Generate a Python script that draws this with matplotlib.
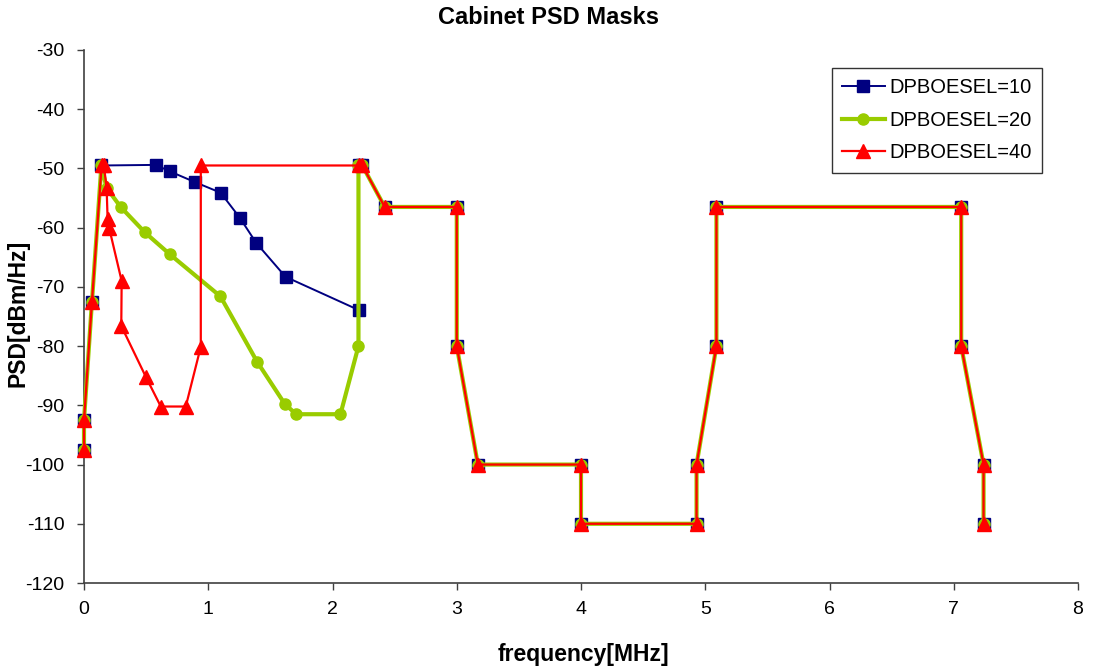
import matplotlib

matplotlib.use("Agg")
import matplotlib.pyplot as plt

plt.rcParams["font.family"] = ["Liberation Sans", "DejaVu Sans"]
plt.rcParams["axes.unicode_minus"] = False

# Shared tail of all three masks (above ~2.2 MHz)
TAIL_F = [2.24, 2.42, 3.0, 3.0, 3.17, 4.0, 4.0, 4.93, 4.93, 5.09, 5.09,
          7.06, 7.06, 7.24, 7.24]
TAIL_P = [-49.5, -56.5, -56.5, -80.0, -100.0, -100.0, -110.0, -110.0,
          -100.0, -80.0, -56.5, -56.5, -80.0, -100.0, -110.0]

# DPBOESEL=10
F10 = [0.0, 0.0, 0.064, 0.14, 0.578, 0.691, 0.892, 1.10, 1.253, 1.387,
       1.622, 2.21, 2.21] + TAIL_F
P10 = [-97.5, -92.5, -72.5, -49.5, -49.4, -50.5, -52.3, -54.1, -58.3,
       -62.6, -68.3, -73.9, -49.5] + TAIL_P

# DPBOESEL=20
F20 = [0.0, 0.0, 0.064, 0.14, 0.182, 0.295, 0.49, 0.691, 1.098, 1.392,
       1.617, 1.708, 2.064, 2.209, 2.209] + TAIL_F
P20 = [-97.5, -92.5, -72.5, -49.5, -53.3, -56.5, -60.8, -64.5, -71.6,
       -82.6, -89.8, -91.5, -91.5, -80.0, -49.5] + TAIL_P

# DPBOESEL=40
F40 = [0.0, 0.0, 0.064, 0.142, 0.16, 0.182, 0.19, 0.203, 0.303, 0.30,
       0.498, 0.618, 0.819, 0.94, 0.94, 2.21] + TAIL_F
P40 = [-97.5, -92.5, -72.5, -49.5, -49.5, -53.3, -58.5, -60.1, -69.0,
       -76.6, -85.2, -90.2, -90.2, -80.1, -49.5, -49.5] + TAIL_P

X_TICKS = list(range(0, 9))
Y_TICKS = list(range(-120, -29, 10))

W, H = 1093, 670
fig = plt.figure(figsize=(W / 100, H / 100), dpi=100)
ax = fig.add_axes([84 / W, 87 / H, 994 / W, 533 / H])

ax.plot(F10, P10, color="#000080", lw=1.4, marker="s", ms=8,
        mec="#000080", mfc="#000080", label="DPBOESEL=10", zorder=3,
        clip_on=False)
ax.plot(F20, P20, color="#99CC00", lw=3.0, marker="o", ms=8,
        mec="#99CC00", mfc="#99CC00", label="DPBOESEL=20", zorder=4,
        clip_on=False)
ax.plot(F40, P40, color="#FF0000", lw=1.6, marker="^", ms=9.5,
        mec="#FF0000", mfc="#FF0000", label="DPBOESEL=40", zorder=5,
        clip_on=False)

ax.set_xlim(0, 8)
ax.set_ylim(-120, -30)
ax.set_xticks(X_TICKS)
ax.set_yticks(Y_TICKS)
ax.tick_params(direction="out", length=5, width=1, color="#404040",
               labelsize=14)
ax.tick_params(axis="x", pad=8)
ax.tick_params(axis="y", pad=9)
for side in ("top", "right"):
    ax.spines[side].set_visible(False)
for side in ("left", "bottom"):
    ax.spines[side].set_color("#404040")
    ax.spines[side].set_linewidth(1.2)

fig.text(549 / W, 1 - 17 / H, "Cabinet PSD Masks", fontsize=17,
         fontweight="bold", ha="center", va="center")
fig.text(583 / W, 1 - 655 / H, "frequency[MHz]", fontsize=16.5,
         fontweight="bold", ha="center", va="center")
fig.text(18 / W, 1 - 313 / H, "PSD[dBm/Hz]", fontsize=16.5,
         fontweight="bold", ha="center", va="center", rotation=90)

leg = ax.legend(loc="upper right", bbox_to_anchor=(1042 / W, 1 - 68 / H),
                bbox_transform=fig.transFigure, borderaxespad=0,
                fontsize=14.5, frameon=True, fancybox=False,
                edgecolor="black", handlelength=2.1, borderpad=0.5,
                labelspacing=0.68, handletextpad=0.25)
leg.get_frame().set_linewidth(1.0)

fig.savefig("out.png", dpi=100)
